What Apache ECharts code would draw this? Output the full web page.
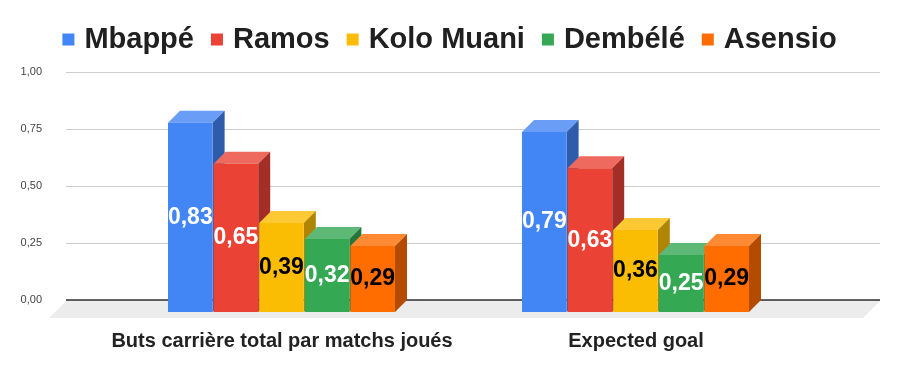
<!DOCTYPE html>
<html>
<head>
<meta charset="utf-8">
<script src="https://cdn.jsdelivr.net/npm/echarts@6/dist/echarts.min.js"></script>
<style>
html,body{margin:0;padding:0;background:#fff;}
#chart{width:899px;height:371px;}
</style>
</head>
<body>
<div id="chart"></div>
<script>
// ---- data ----
const categories = ['Buts carrière total par matchs joués', 'Expected goal'];
const players = ['Mbappé', 'Ramos', 'Kolo Muani', 'Dembélé', 'Asensio'];
const mbappe = [0.83, 0.79];
const ramos = [0.65, 0.63];
const koloMuani = [0.39, 0.36];
const dembele = [0.32, 0.25];
const asensio = [0.29, 0.29];
const yTickLabels = ['0,00', '0,25', '0,50', '0,75', '1,00'];

// ---- styles ----
const seriesValues = [mbappe, ramos, koloMuani, dembele, asensio];
const frontColors = ['#4285f4', '#ea4335', '#fbbc04', '#34a853', '#ff6d01'];
const topColors   = ['#6a9ef6', '#ee6a5e', '#fcc934', '#5db975', '#ff8a34'];
const sideColors  = ['#2e5cab', '#a32e25', '#b08503', '#24763a', '#b34c01'];
const labelColors = ['#ffffff', '#ffffff', '#000000', '#ffffff', '#000000'];
const DEPTH = 12;
const SLOT_RATIO = 0.1288;
const FONT = '"Liberation Sans", Arial, sans-serif';

const chart = echarts.init(document.getElementById('chart'), null, {renderer: 'canvas'});

function fmt(v) { return v.toFixed(2).replace('.', ','); }

function barRenderer(s) {
  return function (params, api) {
    const cat = api.value(0);
    const v = api.value(1);
    const cTop = api.coord([cat, v]);
    const cBase = api.coord([cat, 0]);
    const band = api.size([1, 0])[0];
    const slot = band * SLOT_RATIO;
    const groupW = slot * 5;
    const x = cTop[0] - groupW / 2 + s * slot;
    const w = slot - 1;
    const yt = cTop[1] + DEPTH;
    const yb = cBase[1] + DEPTH;
    return {
      type: 'group',
      children: [
        { type: 'polygon', shape: { points: [[x, yt], [x + w, yt], [x + w + DEPTH, yt - DEPTH], [x + DEPTH, yt - DEPTH]] },
          style: { fill: topColors[s] }, z2: 1 },
        { type: 'polygon', shape: { points: [[x + w, yt], [x + w + DEPTH, yt - DEPTH], [x + w + DEPTH, yb - DEPTH], [x + w, yb]] },
          style: { fill: sideColors[s] }, z2: 1 },
        { type: 'rect', shape: { x: x, y: yt, width: w, height: yb - yt },
          style: { fill: frontColors[s] }, z2: 2 },
        { type: 'text', x: x + w / 2, y: (yt + yb) / 2, z2: 100,
          style: { text: fmt(v), fill: labelColors[s], font: 'bold 23px ' + FONT,
                   align: 'center', verticalAlign: 'middle' } }
      ]
    };
  };
}

const barSeries = players.map((name, s) => ({
  type: 'custom',
  name: name,
  xAxisIndex: 1,
  yAxisIndex: 1,
  itemStyle: { color: frontColors[s] },
  data: seriesValues[s].map((v, k) => [k, v]),
  encode: { x: 0, y: 1 },
  renderItem: barRenderer(s),
  z: 3
}));

const floorSeries = {
  type: 'custom',
  name: 'floor',
  xAxisIndex: 0,
  yAxisIndex: 0,
  data: [[0, 0]],
  silent: true,
  z: 1,
  renderItem: function (params, api) {
    const l = api.coord([0, 0]);
    const r = api.coord([1, 0]);
    return {
      type: 'group',
      children: [
        { type: 'polygon', shape: { points: [[l[0], l[1] + 1], [r[0], r[1] + 1], [r[0] - 17, r[1] + 18], [l[0] - 17, l[1] + 18]] },
          style: { fill: '#ececec' } },
        { type: 'line', shape: { x1: l[0], y1: l[1], x2: r[0], y2: r[1] },
          style: { stroke: '#333333', lineWidth: 1.5 } }
      ]
    };
  }
};

chart.setOption({
  animation: false,
  backgroundColor: '#ffffff',
  legend: {
    data: players,
    top: 20,
    left: 'center',
    icon: 'rect',
    itemWidth: 12,
    itemHeight: 12,
    itemGap: 17,
    textStyle: { fontSize: 29, fontWeight: 'bold', color: '#202020', fontFamily: FONT, padding: [0, 0, 0, 5] }
  },
  grid: [
    { left: 66, right: 19, top: 72, bottom: 71 },
    { left: 105, right: 86, top: 72, bottom: 71 }
  ],
  xAxis: [
    { type: 'value', gridIndex: 0, min: 0, max: 1, show: false },
    { type: 'category', gridIndex: 1, data: categories,
      axisLine: { show: false }, axisTick: { show: false },
      axisLabel: { interval: 0, fontSize: 20, fontWeight: 'bold', color: '#222222', fontFamily: FONT, margin: 31 } }
  ],
  yAxis: [
    { type: 'value', gridIndex: 0, min: 0, max: 1, interval: 0.25,
      axisLine: { show: false }, axisTick: { show: false },
      axisLabel: { fontSize: 11, color: '#444444', fontFamily: FONT, margin: 24,
                   formatter: function (v) { return yTickLabels[Math.round(v / 0.25)]; } },
      splitLine: { lineStyle: { color: '#cccccc', width: 1 } } },
    { type: 'value', gridIndex: 1, min: 0, max: 1, interval: 0.25, show: false }
  ],
  series: [floorSeries].concat(barSeries)
});
</script>
</body>
</html>
